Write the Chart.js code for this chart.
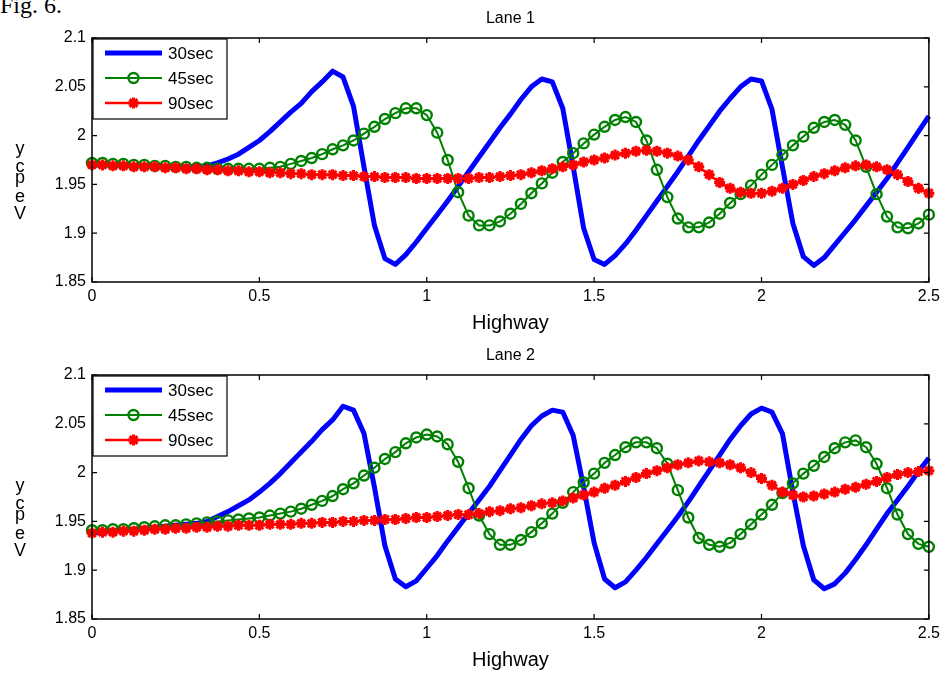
<!DOCTYPE html>
<html>
<head>
<meta charset="utf-8">
<script src="https://cdn.jsdelivr.net/npm/chart.js@4.4.1/dist/chart.umd.min.js"></script>
<style>
  html, body { margin: 0; padding: 0; background: #fff; }
  body { width: 945px; height: 674px; position: relative; overflow: hidden; }
  #figLabel { position: absolute; left: 0; top: -7px; font: 24px/24px 'Liberation Serif', 'Times New Roman', serif; color: #000; }
  .panel { position: absolute; left: 0; }
</style>
</head>
<body>
<div id="figLabel">Fig. 6.</div>
<canvas id="lane1" class="panel" style="top:0" width="945" height="337"></canvas>
<canvas id="lane2" class="panel" style="top:337px" width="945" height="337"></canvas>
<script>
// sample spacing along the highway (81 samples over 0..2.5)
const STEP = 2.5 / 80;

const X_TICKS = [0, 0.5, 1, 1.5, 2, 2.5];
const Y_TICKS = [1.85, 1.9, 1.95, 2, 2.05, 2.1];
const SERIES_LABELS = ['30sec', '45sec', '90sec'];
const Y_LABEL = ['y', 'c', 'p', 'e', 'V'];

// Lane 1
const lane1_30 = [
  1.970, 1.970, 1.970, 1.969, 1.969, 1.969, 1.968, 1.968, 1.968, 1.968,
  1.968, 1.969, 1.972, 1.976, 1.981, 1.988, 1.995, 2.004, 2.014, 2.024,
  2.033, 2.045, 2.055, 2.066, 2.060, 2.030, 1.968, 1.908, 1.874, 1.868,
  1.878, 1.891, 1.905, 1.919, 1.933, 1.948, 1.963, 1.978, 1.993, 2.008,
  2.022, 2.037, 2.050, 2.058, 2.055, 2.028, 1.968, 1.905, 1.873, 1.868,
  1.877, 1.889, 1.903, 1.918, 1.933, 1.948, 1.963, 1.979, 1.995, 2.010,
  2.025, 2.038, 2.050, 2.058, 2.056, 2.027, 1.968, 1.910, 1.876, 1.867,
  1.875, 1.888, 1.901, 1.914, 1.928, 1.942, 1.956, 1.972, 1.988, 2.004,
  2.020
];
const lane1_45 = [
  1.972, 1.972, 1.971, 1.971, 1.970, 1.970, 1.969, 1.969, 1.968, 1.968,
  1.967, 1.967, 1.966, 1.966, 1.966, 1.966, 1.966, 1.967, 1.968, 1.971,
  1.974, 1.977, 1.981, 1.986, 1.990, 1.995, 2.002, 2.009, 2.017, 2.023,
  2.028, 2.028, 2.021, 2.003, 1.975, 1.942, 1.918, 1.908, 1.908, 1.912,
  1.920, 1.930, 1.941, 1.951, 1.962, 1.973, 1.982, 1.992, 2.001, 2.009,
  2.016, 2.019, 2.014, 1.995, 1.965, 1.937, 1.915, 1.906, 1.906, 1.911,
  1.920, 1.931, 1.940, 1.949, 1.960, 1.970, 1.980, 1.990, 1.999, 2.008,
  2.014, 2.016, 2.011, 1.995, 1.968, 1.940, 1.917, 1.906, 1.905, 1.910,
  1.919
];
const lane1_90 = [
  1.970, 1.970, 1.969, 1.969, 1.968, 1.968, 1.968, 1.967, 1.967, 1.966,
  1.966, 1.965, 1.965, 1.964, 1.964, 1.963, 1.963, 1.962, 1.962, 1.961,
  1.961, 1.960, 1.960, 1.960, 1.959, 1.959, 1.958, 1.958, 1.957, 1.957,
  1.957, 1.956, 1.956, 1.956, 1.956, 1.956, 1.956, 1.957, 1.957, 1.958,
  1.959, 1.960, 1.962, 1.964, 1.966, 1.968, 1.970, 1.973, 1.975, 1.977,
  1.980, 1.982, 1.984, 1.985, 1.984, 1.982, 1.979, 1.975, 1.968, 1.960,
  1.952, 1.946, 1.942, 1.941, 1.941, 1.943, 1.946, 1.950, 1.954, 1.958,
  1.961, 1.964, 1.967, 1.969, 1.970, 1.968, 1.965, 1.960, 1.953, 1.946,
  1.941
];

// Lane 2
const lane2_30 = [
  1.938, 1.939, 1.940, 1.941, 1.942, 1.943, 1.944, 1.945, 1.946, 1.947,
  1.948, 1.950, 1.955, 1.960, 1.966, 1.972, 1.980, 1.989, 1.999, 2.010,
  2.021, 2.032, 2.044, 2.054, 2.068, 2.064, 2.040, 1.985, 1.925, 1.891,
  1.883, 1.889, 1.902, 1.915, 1.930, 1.944, 1.958, 1.972, 1.986, 2.002,
  2.018, 2.034, 2.048, 2.058, 2.064, 2.062, 2.038, 1.985, 1.928, 1.891,
  1.882, 1.888, 1.900, 1.913, 1.927, 1.941, 1.955, 1.970, 1.986, 2.002,
  2.018, 2.034, 2.048, 2.060, 2.066, 2.062, 2.040, 1.980, 1.925, 1.890,
  1.881, 1.886, 1.897, 1.911, 1.926, 1.942, 1.958, 1.972, 1.986, 2.001,
  2.015
];
const lane2_45 = [
  1.941, 1.941, 1.942, 1.942, 1.943, 1.944, 1.945, 1.946, 1.946, 1.947,
  1.948, 1.949, 1.950, 1.951, 1.952, 1.953, 1.954, 1.956, 1.958, 1.960,
  1.963, 1.967, 1.971, 1.976, 1.983, 1.989, 1.997, 2.005, 2.014, 2.021,
  2.030, 2.036, 2.039, 2.037, 2.029, 2.011, 1.984, 1.956, 1.937, 1.926,
  1.926, 1.931, 1.939, 1.948, 1.958, 1.969, 1.980, 1.990, 1.999, 2.010,
  2.018, 2.026, 2.031, 2.031, 2.025, 2.009, 1.982, 1.954, 1.933, 1.926,
  1.924, 1.928, 1.937, 1.947, 1.957, 1.967, 1.979, 1.989, 1.999, 2.007,
  2.016, 2.025, 2.031, 2.033, 2.026, 2.009, 1.984, 1.957, 1.937, 1.927,
  1.924
];
const lane2_90 = [
  1.938, 1.939, 1.939, 1.940, 1.940, 1.941, 1.942, 1.942, 1.943, 1.943,
  1.944, 1.944, 1.945, 1.945, 1.946, 1.946, 1.946, 1.947, 1.947, 1.947,
  1.948, 1.948, 1.949, 1.949, 1.950, 1.950, 1.951, 1.951, 1.952, 1.952,
  1.953, 1.954, 1.954, 1.955, 1.956, 1.957, 1.957, 1.958, 1.960, 1.961,
  1.963, 1.964, 1.966, 1.968, 1.969, 1.971, 1.974, 1.977, 1.980, 1.984,
  1.987, 1.991, 1.995, 1.999, 2.002, 2.005, 2.008, 2.010, 2.012, 2.011,
  2.010, 2.008, 2.005, 2.000, 1.994, 1.987, 1.980, 1.977, 1.975, 1.976,
  1.978, 1.980, 1.983, 1.985, 1.988, 1.991, 1.995, 1.998, 2.000, 2.001,
  2.002
];

const COLORS = {
  s30: '#0000ff',
  s45: '#008000',
  s90: '#ff0000',
  axis: '#000000',
};

Chart.defaults.font.family = "'Liberation Sans', Arial, Helvetica, sans-serif";
Chart.defaults.color = '#000';

// MATLAB-style box round the plot area with inward ticks on all four sides
const axesFrame = {
  id: 'axesFrame',
  afterDatasetsDraw(chart) {
    const { ctx, chartArea: a, scales: { x, y } } = chart;
    ctx.save();
    ctx.strokeStyle = COLORS.axis;
    ctx.lineWidth = 1.5;
    ctx.strokeRect(a.left, a.top, a.right - a.left, a.bottom - a.top);
    ctx.lineWidth = 1.2;
    ctx.beginPath();
    X_TICKS.forEach(v => {
      const px = x.getPixelForValue(v);
      ctx.moveTo(px, a.bottom); ctx.lineTo(px, a.bottom - 5);
      ctx.moveTo(px, a.top);    ctx.lineTo(px, a.top + 5);
    });
    Y_TICKS.forEach(v => {
      const py = y.getPixelForValue(v);
      ctx.moveTo(a.left, py);  ctx.lineTo(a.left + 5, py);
      ctx.moveTo(a.right, py); ctx.lineTo(a.right - 5, py);
    });
    ctx.stroke();
    ctx.restore();
  }
};

// boxed legend in the upper-left corner, line sample with its marker
const lineLegend = {
  id: 'lineLegend',
  afterDraw(chart) {
    const { ctx, chartArea: a } = chart;
    const bx = a.left + 1, by = a.top + 1, bw = 134, bh = 80;
    ctx.save();
    ctx.fillStyle = '#fff';
    ctx.fillRect(bx, by, bw, bh);
    ctx.strokeStyle = COLORS.axis;
    ctx.lineWidth = 1.2;
    ctx.strokeRect(bx, by, bw, bh);

    chart.data.datasets.forEach((ds, i) => {
      const cy = by + 14 + i * 25;
      ctx.strokeStyle = ds.borderColor;
      ctx.lineWidth = ds.borderWidth;
      ctx.beginPath();
      ctx.moveTo(bx + 12, cy);
      ctx.lineTo(bx + 69, cy);
      ctx.stroke();
      if (ds.pointRadius) {
        ctx.fillStyle = ds.pointBackgroundColor;
        ctx.strokeStyle = ds.pointBorderColor;
        ctx.lineWidth = ds.pointBorderWidth;
        Chart.helpers.drawPoint(ctx, {
          pointStyle: ds.pointStyle,
          radius: ds.pointRadius,
          borderWidth: ds.pointBorderWidth,
          rotation: 0,
        }, bx + 40.5, cy);
      }
      ctx.fillStyle = '#000';
      ctx.font = "17px 'Liberation Sans', Arial, sans-serif";
      ctx.textBaseline = 'middle';
      ctx.fillText(ds.label, bx + 75, cy + 1);
    });
    ctx.restore();
  }
};

// y label: letters stacked upright
const stackedYLabel = {
  id: 'stackedYLabel',
  afterDraw(chart) {
    const { ctx, chartArea: a } = chart;
    const baselines = [116, 134, 145, 164, 181];
    ctx.save();
    ctx.fillStyle = '#000';
    ctx.font = "18px 'Liberation Sans', Arial, sans-serif";
    ctx.textAlign = 'center';
    ctx.textBaseline = 'alphabetic';
    Y_LABEL.forEach((ch, i) => ctx.fillText(ch, 20, a.top + baselines[i]));
    ctx.restore();
  }
};

function setTicks(values) {
  return scale => { scale.ticks = values.map(v => ({ value: v })); };
}

function renderLane(canvasId, title, s30, s45, s90) {
  const pts = vals => vals.map((y, i) => ({ x: i * STEP, y }));
  const series = [s30, s45, s90];

  return new Chart(document.getElementById(canvasId), {
    type: 'line',
    data: {
      datasets: [
        {
          label: SERIES_LABELS[0],
          data: pts(series[0]),
          borderColor: COLORS.s30,
          borderWidth: 5,
          borderJoinStyle: 'round',
          pointRadius: 0,
          order: 3,
        },
        {
          label: SERIES_LABELS[1],
          data: pts(series[1]),
          borderColor: COLORS.s45,
          borderWidth: 2,
          pointStyle: 'circle',
          pointRadius: 5,
          pointBorderWidth: 2.4,
          pointBorderColor: COLORS.s45,
          pointBackgroundColor: 'rgba(0,0,0,0)',
          order: 2,
        },
        {
          label: SERIES_LABELS[2],
          data: pts(series[2]),
          borderColor: COLORS.s90,
          borderWidth: 2.5,
          pointStyle: 'star',
          pointRadius: 5.5,
          pointBorderWidth: 3,
          pointBorderColor: COLORS.s90,
          pointBackgroundColor: COLORS.s90,
          order: 1,
        },
      ],
    },
    options: {
      responsive: false,
      animation: false,
      events: [],
      clip: 8,
      layout: { padding: { left: 0, right: 13, top: 0, bottom: 0 } },
      plugins: {
        legend: { display: false },
        tooltip: { enabled: false },
      },
      scales: {
        x: {
          type: 'linear',
          min: 0,
          max: 2.5,
          grid: { display: false, drawTicks: false },
          border: { display: false },
          afterBuildTicks: setTicks(X_TICKS),
          ticks: { font: { size: 16 }, padding: 5, maxRotation: 0, callback: v => String(v) },
          title: { display: true, text: 'Highway', font: { size: 20 }, padding: { top: 0, bottom: 1.5 } },
          afterFit: s => { s.height = 55; },
        },
        xTop: {
          type: 'linear',
          axis: 'x',
          position: 'top',
          min: 0,
          max: 2.5,
          grid: { display: false, drawTicks: false },
          border: { display: false },
          ticks: { display: false },
          title: { display: true, text: title, font: { size: 16 }, padding: { top: 8.5, bottom: 0 } },
          afterFit: s => { s.height = 38; },
        },
        y: {
          type: 'linear',
          min: 1.85,
          max: 2.1,
          grid: { display: false, drawTicks: false },
          border: { display: false },
          afterBuildTicks: setTicks(Y_TICKS),
          ticks: { font: { size: 16 }, padding: 6, callback: v => String(v) },
          afterFit: s => { s.width = 92; },
        },
      },
    },
    plugins: [axesFrame, lineLegend, stackedYLabel],
  });
}

renderLane('lane1', 'Lane 1', lane1_30, lane1_45, lane1_90);
renderLane('lane2', 'Lane 2', lane2_30, lane2_45, lane2_90);
</script>
</body>
</html>
